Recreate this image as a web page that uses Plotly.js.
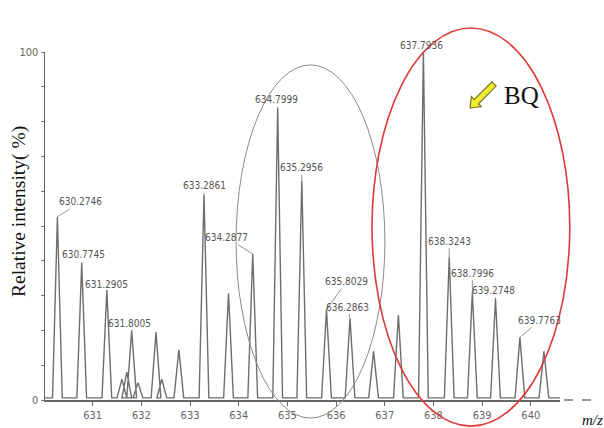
<!DOCTYPE html>
<html>
<head>
<meta charset="utf-8">
<script src="https://cdn.plot.ly/plotly-3.0.1.min.js"></script>
<style>html,body{margin:0;padding:0;background:#fff;}#chart{width:604px;height:428px;}</style>
</head>
<body>
<div id="chart"></div>
<script>
// Peak centroids (m/z) and relative intensities (%)
const peakMz = [630.2746, 630.7745, 631.2905, 631.60, 631.70, 631.8005, 631.93, 632.30, 632.42, 632.77,
                633.2861, 633.79, 634.2877, 634.7999, 635.2956, 635.8029, 636.2863, 636.77, 637.28,
                637.7936, 638.3243, 638.7996, 639.2748, 639.7763, 640.27];
const peakInt = [52.6, 39.4, 31.6, 6, 8, 20, 5, 19.5, 6, 14.4,
                 59, 30.7, 42, 84, 63, 26, 23.5, 14, 24.4,
                 100, 41, 31, 29, 18, 14];
// Labelled peaks
const labelMz = [630.2746, 630.7745, 631.2905, 631.8005, 633.2861, 634.2877, 634.7999, 635.2956,
                 635.8029, 636.2863, 637.7936, 638.3243, 638.7996, 639.2748, 639.7763];
const labelText = ["630.2746", "630.7745", "631.2905", "631.8005", "633.2861", "634.2877", "634.7999", "635.2956",
                   "635.8029", "636.2863", "637.7936", "638.3243", "638.7996", "639.2748", "639.7763"];
const xTicks = [631, 632, 633, 634, 635, 636, 637, 638, 639, 640];
const yTicks = [0, 10, 20, 30, 40, 50, 60, 70, 80, 90, 100];
const yTickText = ["0", "", "", "", "", "", "", "", "", "", "100"];

// style: label offsets in pixels (ax, ay)
const labelOffsets = [[23,-15],[2,-8],[0,-6],[-2,-7],[1,-9],[-26,-16],[-1,-8],[0,-13],
                      [20,-28],[-3,-11],[-2,-7],[0,-16],[0,-19],[-2,-9],[20,-17]];

const XMIN = 630.02, XMAX = 640.6, HW = 0.1, BASE = 0.6;
const xs = [XMIN], ys = [BASE];
peakMz.forEach((m, i) => {
  xs.push(m - HW, m, m + HW);
  ys.push(BASE, peakInt[i], BASE);
});
xs.push(XMAX); ys.push(BASE);

const trace = {
  x: xs, y: ys, type: 'scatter', mode: 'lines',
  line: {color: '#6e6e6e', width: 1.4},
  hoverinfo: 'skip'
};

const lblFont = {family: 'Liberation Sans Narrow, DejaVu Sans Condensed, Arial Narrow, sans-serif', size: 10, color: '#555'};
const annotations = labelMz.map((m, i) => {
  const idx = peakMz.indexOf(m);
  return {
    x: m, y: peakInt[idx], xref: 'x', yref: 'y',
    text: labelText[i], showarrow: true, arrowhead: 0, arrowwidth: 0.8, arrowcolor: '#777',
    ax: labelOffsets[i][0], ay: labelOffsets[i][1], font: lblFont
  };
});

// pixel -> paper helpers for decorations
const PL = 45, PW = 515, PB = 400, PH = 348;
const px = v => (v - PL) / PW;
const py = v => (PB - v) / PH;

annotations.push({
  xref: 'paper', yref: 'paper', x: px(19), y: py(212), xanchor: 'center', yanchor: 'middle',
  text: 'Relative intensity( %)', textangle: -90, showarrow: false,
  font: {family: 'Liberation Serif, Times New Roman, serif', size: 19.5, color: '#111'}
});
annotations.push({
  xref: 'paper', yref: 'paper', x: px(580), y: py(420), xanchor: 'left', yanchor: 'middle',
  text: '<i>m/z</i>', showarrow: false,
  font: {family: 'Liberation Serif, Times New Roman, serif', size: 15, color: '#111'}
});
annotations.push({
  xref: 'paper', yref: 'paper', x: px(521), y: py(96), xanchor: 'center', yanchor: 'middle',
  text: 'BQ', showarrow: false,
  font: {family: 'Liberation Serif, Times New Roman, serif', size: 25, color: '#111'}
});

// yellow block arrow pointing down-left
const arrowPts = [[470,108],[481.3,106.5],[478.5,103.7],[496.1,86.1],[491.9,81.9],[474.3,99.5],[471.4,96.6]];
const arrowPath = arrowPts.map((p, i) => (i ? 'L' : 'M') + px(p[0]).toFixed(4) + ',' + py(p[1]).toFixed(4)).join(' ') + ' Z';

const shapes = [
  {type: 'circle', xref: 'paper', yref: 'paper', x0: 0.371, x1: 0.660, y0: -0.052, y1: 0.963,
   line: {color: '#8a8a8a', width: 1}},
  {type: 'circle', xref: 'paper', yref: 'paper', x0: 0.635, x1: 1.019, y0: -0.075, y1: 1.069,
   line: {color: '#dd3a3a', width: 1.6}},
  {type: 'line', xref: 'paper', yref: 'paper', x0: 1.008, x1: 1.062, y0: 0, y1: 0,
   line: {color: '#777', width: 1.5, dash: 'dash'}},
  {type: 'path', xref: 'paper', yref: 'paper', path: arrowPath,
   fillcolor: '#f2ea30', line: {color: '#7a7420', width: 1.2}}
];

const tickFont = {family: 'Liberation Sans Narrow, DejaVu Sans Condensed, Arial Narrow, sans-serif', size: 11, color: '#666'};
const layout = {
  width: 604, height: 428, autosize: false, showlegend: false,
  margin: {l: 45, r: 44, t: 52, b: 28, pad: 0},
  paper_bgcolor: '#fff', plot_bgcolor: '#fff',
  xaxis: {range: [XMIN, XMAX], tickvals: xTicks, ticks: 'outside', ticklen: 4, tickcolor: '#666',
          showline: true, linecolor: '#666', linewidth: 1.5, showgrid: false, zeroline: false,
          tickfont: tickFont, fixedrange: true},
  yaxis: {range: [0, 100], tickvals: yTicks, ticktext: yTickText, ticks: 'outside', ticklen: 3, tickcolor: '#777',
          showline: true, linecolor: '#666', linewidth: 1.5, showgrid: false, zeroline: false,
          tickfont: tickFont, fixedrange: true},
  annotations: annotations,
  shapes: shapes
};

Plotly.newPlot('chart', [trace], layout, {displayModeBar: false, staticPlot: true});
</script>
</body>
</html>
